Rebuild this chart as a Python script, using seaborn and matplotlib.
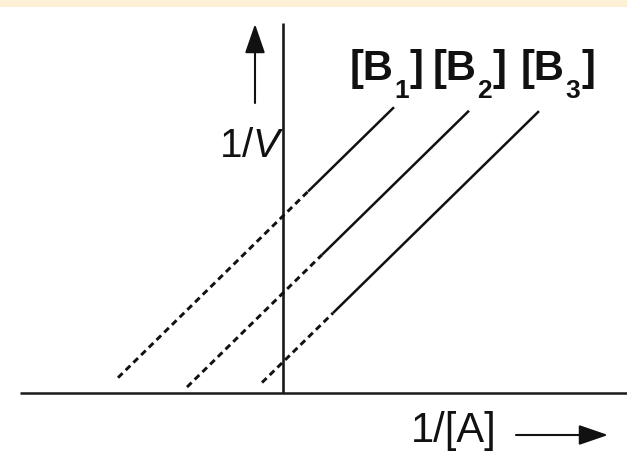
import matplotlib
matplotlib.use("Agg")
import matplotlib.pyplot as plt
import seaborn as sns
import numpy as np
from matplotlib.patches import Rectangle

# Lineweaver-Burk lines for three fixed concentrations of B
series = ["1", "2", "3"]             # subscripts of [B1], [B2], [B3]
intercepts = [1.77, 1.00, 0.31]      # 1/V at 1/[A] = 0
slope = 0.98
x_start = [-1.65, -0.96, -0.21]      # start of the extrapolated (dashed) part
x_break = [0.25, 0.39, 0.50]         # where measured (solid) data begin
x_end = [1.11, 1.86, 2.56]           # end of measured data

sns.set_style("white")
plt.rcParams["font.family"] = ["Liberation Sans", "DejaVu Sans"]
plt.rcParams["mathtext.fontset"] = "custom"
plt.rcParams["mathtext.rm"] = "Liberation Sans"
plt.rcParams["mathtext.it"] = "Liberation Sans:italic"
plt.rcParams["mathtext.bf"] = "Liberation Sans:bold"

INK = "#111111"

fig = plt.figure(figsize=(6.27, 4.53), dpi=100)
fig.patch.set_facecolor("white")
fig.add_artist(Rectangle((0, 1 - 7 / 453), 1, 7 / 453, transform=fig.transFigure,
                         facecolor="#fdf0d5", edgecolor="none"))
ax = fig.add_axes([0, 0, 1, 1])
ax.set_xlim(-2.83, 3.44)
ax.set_ylim(-0.60, 3.93)
ax.axis("off")

# axes of the plot
ax.plot([-2.63, 3.44], [0, 0], color="#1a1a1a", lw=1.8, solid_capstyle="butt")
ax.plot([0, 0], [0, 3.70], color="#1a1a1a", lw=1.9, solid_capstyle="butt")

for b, x0, xb, x1 in zip(intercepts, x_start, x_break, x_end):
    xd = np.array([x0, xb])
    xs = np.array([xb, x1])
    sns.lineplot(x=xd, y=b + slope * xd, ax=ax, color=INK, lw=2.1,
                 linestyle=(0, (2.2, 1.5)), sort=False)
    sns.lineplot(x=xs, y=b + slope * xs, ax=ax, color=INK, lw=1.8,
                 sort=False, solid_capstyle="butt")

arrow = dict(arrowstyle="-|>,head_length=1.8,head_width=0.62", mutation_scale=10,
             lw=1.5, color=INK, shrinkA=0, shrinkB=0)
ax.annotate("", xy=(-0.28, 3.69), xytext=(-0.28, 2.90), arrowprops=arrow)
ax.annotate("", xy=(3.25, -0.42), xytext=(2.33, -0.42), arrowprops=arrow)

ax.text(0.02, 2.36, r"1/$\mathit{V}$", fontsize=29, ha="right", va="baseline",
        color=INK)
ax.text(1.28, -0.49, "1/[A]", fontsize=30, ha="left", va="baseline", color=INK)

# concentration labels: "[B" + lowered subscript + "]"
label_x = [0.67, 1.50, 2.38]
for sub, lx in zip(series, label_x):
    head = ax.text(lx, 3.13, "[B", fontsize=30, fontweight="bold",
                   ha="left", va="baseline", color=INK)
    digit = ax.annotate(sub, xy=(1, 2.95), xycoords=(head, "data"),
                        xytext=(0.5, 0), textcoords="offset points",
                        fontsize=19, fontweight="bold", ha="left",
                        va="baseline", color=INK)
    ax.annotate("]", xy=(1, 3.13), xycoords=(digit, "data"),
                xytext=(0.5, 0), textcoords="offset points",
                fontsize=30, fontweight="bold", ha="left",
                va="baseline", color=INK)

fig.savefig("out.png", dpi=100)
